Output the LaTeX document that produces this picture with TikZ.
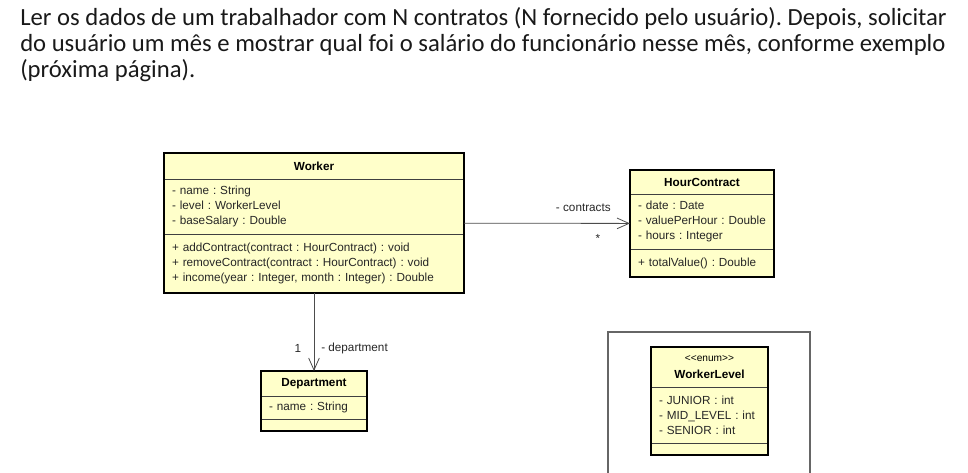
\documentclass[tikz,border=0pt]{standalone}
\usepackage{fontspec}
\setmainfont{Carlito}
\newfontfamily\umlfont{Liberation Sans}
\usetikzlibrary{arrows.meta,fit,positioning}
\definecolor{umlyellow}{RGB}{255,255,202}
\frenchspacing

\begin{document}
\begin{tikzpicture}[x=0.75pt,y=-0.75pt,
	comp/.style={draw=black!75, line width=0.6pt, fill=umlyellow, anchor=north west,
		inner xsep=6pt, inner ysep=0pt, outer sep=0pt, align=left,
		font=\umlfont\fontsize{8.8}{11.25}\selectfont, text=black!85},
	head/.style={comp, align=center, font=\umlfont\bfseries\fontsize{8.8}{12.75}\selectfont, text=black},
	classframe/.style={draw=black, line width=1.6pt, inner sep=0pt, outer sep=0pt},
	assoc/.style={draw=black!70, line width=0.6pt, -{Straight Barb[length=9pt,width=8pt]}},
	role/.style={font=\umlfont\fontsize{8.8}{10}\selectfont, text=black!85, inner sep=0pt},
	linha/.style={anchor=base west, inner sep=0pt, font=\fontsize{18.5}{19.5}\selectfont, text=black!90},
	]
	\useasboundingbox (0,0) rectangle (968,472);

	% enunciado
	\node[linha] (linha1) at (20,25) {Ler os dados de um trabalhador com N contratos (N fornecido pelo usuário). Depois, solicitar};
	\node[linha] (linha2) at (20,51) {do usuário um mês e mostrar qual foi o salário do funcionário nesse mês, conforme exemplo};
	\node[linha] (linha3) at (20,77) {(próxima página).};

	% Worker
	\node[head, text width=213pt, minimum height=19.5pt] (worker-name) at (164,153) {Worker};
	\node[comp, text width=213pt, minimum height=41.25pt] (worker-attr) at (worker-name.south west)
		{- name : String\\- level : WorkerLevel\\- baseSalary : Double};
	\node[comp, text width=213pt, minimum height=44.25pt] (worker-ops) at (worker-attr.south west)
		{+ addContract(contract : HourContract) : void\\+ removeContract(contract : HourContract) : void\\+ income(year : Integer, month : Integer) : Double};
	\node[classframe, fit=(worker-name)(worker-ops)] (worker) {};

	% HourContract
	\node[head, text width=96pt, minimum height=18pt] (hour-name) at (630,170) {HourContract};
	\node[comp, text width=96pt, minimum height=41.25pt] (hour-attr) at (hour-name.south west)
		{- date : Date\\- valuePerHour : Double\\- hours : Integer};
	\node[comp, text width=96pt, minimum height=21pt] (hour-ops) at (hour-attr.south west)
		{+ totalValue() : Double};
	\node[classframe, fit=(hour-name)(hour-ops)] (hour) {};

	% Department
	\node[head, text width=67.5pt, minimum height=18.75pt] (dept-name) at (261,371) {Department};
	\node[comp, text width=67.5pt, minimum height=17.25pt] (dept-attr) at (dept-name.south west)
		{- name : String};
	\node[comp, text width=67.5pt, minimum height=9pt] (dept-ops) at (dept-attr.south west) {};
	\node[classframe, fit=(dept-name)(dept-ops)] (dept) {};

	% WorkerLevel
	\draw[draw=black!60, line width=0.8pt] (608,332) rectangle (810,480);
	\node[head, text width=75.75pt, minimum height=30pt] (level-name) at (651,347)
		{{\mdseries\fontsize{7.6}{9}\selectfont \textless\textless enum\textgreater\textgreater}\\WorkerLevel};
	\node[comp, text width=75.75pt, minimum height=42pt] (level-attr) at (level-name.south west)
		{- JUNIOR : int\\- MID\_LEVEL : int\\- SENIOR : int};
	\node[comp, text width=75.75pt, minimum height=9pt] (level-ops) at (level-attr.south west) {};
	\node[classframe, fit=(level-name)(level-ops)] (level) {};

	% associacoes
	\draw[assoc] (worker) -- (hour);
	\node[role, anchor=east] (contracts) at (611,208) {- contracts};
	\node[role] (mult-contracts) at (598,238) {*};

	\draw[assoc] (worker) -- (dept);
	\node[role] (mult-dept) at (298,348) {1};
	\node[role, anchor=west] (department) at (321,348) {- department};

\end{tikzpicture}
\end{document}
